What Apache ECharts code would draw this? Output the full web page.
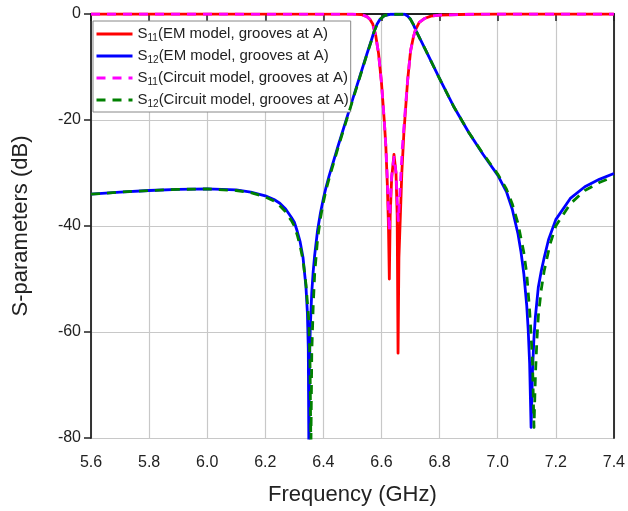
<!DOCTYPE html>
<html><head><meta charset="utf-8">
<script src="https://cdn.jsdelivr.net/npm/echarts@6/dist/echarts.min.js"></script>
<style>html,body{margin:0;padding:0;background:#fff}#c{width:628px;height:511px}</style>
</head><body><div id="c"></div>
<script>
// Tick settings
var xTicks = [5.6,5.8,6.0,6.2,6.4,6.6,6.8,7.0,7.2,7.4];
var yTicks = [-80,-60,-40,-20,0];

// S12, EM model (blue)
var fS12em = [5.6,5.7,5.8,5.9,6.0,6.1,6.15,6.2,6.23,6.25,6.27,6.28,6.29,6.3,6.31,6.32,6.33,6.34,6.345,6.348,6.35,6.352,6.355,6.36,6.365,6.37,6.38,6.39,6.4,6.41,6.42,6.45,6.5,6.55,6.565,6.575,6.585,6.595,6.61,6.63,6.68,6.69,6.7,6.71,6.72,6.75,6.8,6.85,6.9,6.95,7.0,7.03,7.05,7.07,7.08,7.09,7.1,7.105,7.11,7.115,7.12,7.125,7.13,7.14,7.15,7.16,7.175,7.2,7.25,7.3,7.35,7.4];
var vS12em = [-34.0,-33.6,-33.3,-33.1,-33.0,-33.2,-33.6,-34.3,-35.0,-35.7,-36.8,-37.6,-38.4,-39.3,-41.0,-43.0,-46.0,-51.5,-56.5,-63,-82,-66,-59,-52.5,-48.5,-45.5,-40.8,-37.5,-34.8,-32.5,-30.5,-25.0,-16.2,-7.5,-5.0,-3.2,-1.9,-1.0,-0.3,-0.05,-0.05,-0.4,-1.0,-2.0,-3.3,-6.6,-12.2,-17.6,-22.3,-26.5,-30.4,-33.5,-36.8,-41.5,-44.8,-49,-55,-59.5,-66,-78,-67,-61,-57,-51.5,-48.5,-46,-42.6,-38.8,-34.8,-32.6,-31.2,-30.1];

// S12, circuit model (green dashed)
var fS12ck = [5.6,5.7,5.8,5.9,6.0,6.1,6.15,6.2,6.23,6.25,6.27,6.28,6.29,6.3,6.31,6.32,6.33,6.34,6.35,6.354,6.357,6.36,6.365,6.37,6.38,6.39,6.4,6.41,6.42,6.45,6.5,6.55,6.565,6.575,6.585,6.595,6.61,6.63,6.68,6.69,6.7,6.71,6.72,6.75,6.8,6.85,6.9,6.95,7.0,7.03,7.05,7.07,7.09,7.1,7.11,7.115,7.12,7.125,7.13,7.135,7.14,7.15,7.16,7.18,7.2,7.25,7.3,7.35,7.4];
var vS12ck = [-34.0,-33.6,-33.3,-33.1,-33.0,-33.3,-33.7,-34.5,-35.3,-36.2,-37.3,-38.2,-39.0,-40.0,-41.7,-43.8,-46.5,-51,-58,-66,-82,-64,-55,-49,-42.5,-38.5,-35.5,-33.0,-31,-25.3,-16.4,-7.6,-5.1,-3.3,-1.9,-1.0,-0.3,-0.05,-0.05,-0.4,-1.0,-2.0,-3.3,-6.6,-12.2,-17.6,-22.3,-26.4,-30.2,-33.0,-35.8,-39.5,-45,-49,-56,-60.5,-66,-78,-68,-61.5,-57,-52,-48.5,-43.5,-40,-35.8,-33.3,-31.8,-30.7];

// S11, EM model (red)
var fS11em = [5.6,6.0,6.5,6.53,6.55,6.56,6.57,6.58,6.59,6.6,6.61,6.615,6.62,6.624,6.627,6.63,6.635,6.643,6.65,6.654,6.657,6.66,6.665,6.67,6.677,6.69,6.7,6.71,6.717,6.73,6.75,6.77,6.8,6.9,7.0,7.4];
var vS11em = [0,0,-0.02,-0.1,-0.5,-1.0,-1.9,-4.0,-7.5,-13,-20.5,-25,-32,-40,-50,-38,-31,-26.5,-30,-38,-64,-46,-38,-30,-22.5,-12.5,-7.0,-4.3,-3.0,-1.6,-0.8,-0.4,-0.2,-0.05,0,0];

// S11, circuit model (magenta dashed)
var fS11ck = [5.6,6.0,6.5,6.53,6.55,6.56,6.57,6.58,6.59,6.6,6.61,6.615,6.62,6.624,6.627,6.63,6.635,6.643,6.65,6.654,6.658,6.662,6.667,6.672,6.679,6.69,6.7,6.71,6.717,6.73,6.75,6.77,6.8,6.9,7.0,7.4];
var vS11ck = [0,0,-0.02,-0.1,-0.5,-1.0,-1.9,-4.0,-7.5,-13,-20.5,-25,-31,-37,-41,-36,-30.5,-27,-30,-35,-39,-35,-30,-25,-20,-12.5,-7.0,-4.3,-3.0,-1.6,-0.8,-0.4,-0.2,-0.05,0,0];

function pairs(f, v){ return f.map(function(x,i){ return [x, v[i]]; }); }

var names = ['S11em','S12em','S11ck','S12ck'];
var legendText = {
  S11em: '{n|S}{s|11}{n|(EM model, grooves at A)}',
  S12em: '{n|S}{s|12}{n|(EM model, grooves at A)}',
  S11ck: '{n|S}{s|11}{n|(Circuit model, grooves at A)}',
  S12ck: '{n|S}{s|12}{n|(Circuit model, grooves at A)}'
};

var font = 'Liberation Sans, Arial, sans-serif';
var chart = echarts.init(document.getElementById('c'), null, {renderer:'canvas'});
function mk(name, data, color, dashed, z){
  return {
    name: name, type: 'line', data: data, showSymbol: false, symbol: 'none',
    smooth: false, clip: true, z: z,
    lineStyle: {color: color, width: 2.8, type: dashed ? [9,7] : 'solid', join: 'round'},
    itemStyle: {color: color},
    animation: false
  };
}
chart.setOption({
  animation: false,
  grid: {left: 91, right: 11, top: 14, bottom: 73, containLabel: false},
  xAxis: [{
    type: 'value', min: 5.6, max: 7.4, interval: 0.2,
    name: 'Frequency (GHz)', nameLocation: 'middle', nameGap: 46,
    nameTextStyle: {fontFamily: font, fontSize: 22, color: '#222'},
    axisLine: {show: true, lineStyle: {color: '#222', width: 1.8}},
    axisTick: {show: true, inside: false, length: 7, lineStyle: {color: '#222', width: 1.5}},
    axisLabel: {fontFamily: font, fontSize: 16, color: '#222', margin: 17,
      formatter: function(v){ return v.toFixed(1); }},
    splitLine: {show: true, lineStyle: {color: '#c8c8c8', width: 1.2}}
  },{
    type: 'value', min: 5.6, max: 7.4, position: 'top',
    axisLine: {show: true, onZero: false, lineStyle: {color: '#222', width: 1.8}},
    axisTick: {show: false}, axisLabel: {show: false}, splitLine: {show: false}
  }],
  yAxis: [{
    type: 'value', min: -80, max: 0, interval: 20,
    name: 'S-parameters (dB)', nameLocation: 'middle', nameGap: 59,
    nameTextStyle: {fontFamily: font, fontSize: 22, color: '#222'},
    axisLine: {show: true, onZero: false, lineStyle: {color: '#222', width: 1.8}},
    axisTick: {show: true, inside: false, length: 7, lineStyle: {color: '#222', width: 1.5}},
    axisLabel: {fontFamily: font, fontSize: 16, color: '#222', margin: 10},
    splitLine: {show: true, lineStyle: {color: '#c8c8c8', width: 1.2}}
  },{
    type: 'value', min: -80, max: 0, position: 'right',
    axisLine: {show: true, onZero: false, lineStyle: {color: '#222', width: 1.8}},
    axisTick: {show: false}, axisLabel: {show: false}, splitLine: {show: false}
  }],
  legend: {
    show: true, orient: 'vertical', left: 93, top: 21,
    data: names, itemWidth: 36, itemHeight: 14, itemGap: 4,
    padding: [4, 2, 3, 2],
    borderColor: '#888', borderWidth: 1, backgroundColor: '#fff',
    itemStyle: {opacity: 0},
    lineStyle: {width: 3},
    formatter: function(n){ return legendText[n]; },
    textStyle: {fontFamily: font, color: '#222', rich: {
      n: {fontFamily: font, fontSize: 15, color: '#222', lineHeight: 18},
      s: {fontFamily: font, fontSize: 10, color: '#222', verticalAlign: 'bottom', lineHeight: 10, padding: [8,0,0,0]}
    }}
  },
  series: [
    mk('S11em', pairs(fS11em, vS11em), '#ff0000', false, 2),
    mk('S12em', pairs(fS12em, vS12em), '#0000ff', false, 3),
    mk('S11ck', pairs(fS11ck, vS11ck), '#ff00ff', true, 4),
    mk('S12ck', pairs(fS12ck, vS12ck), '#008000', true, 5)
  ]
});
</script>
</body></html>
